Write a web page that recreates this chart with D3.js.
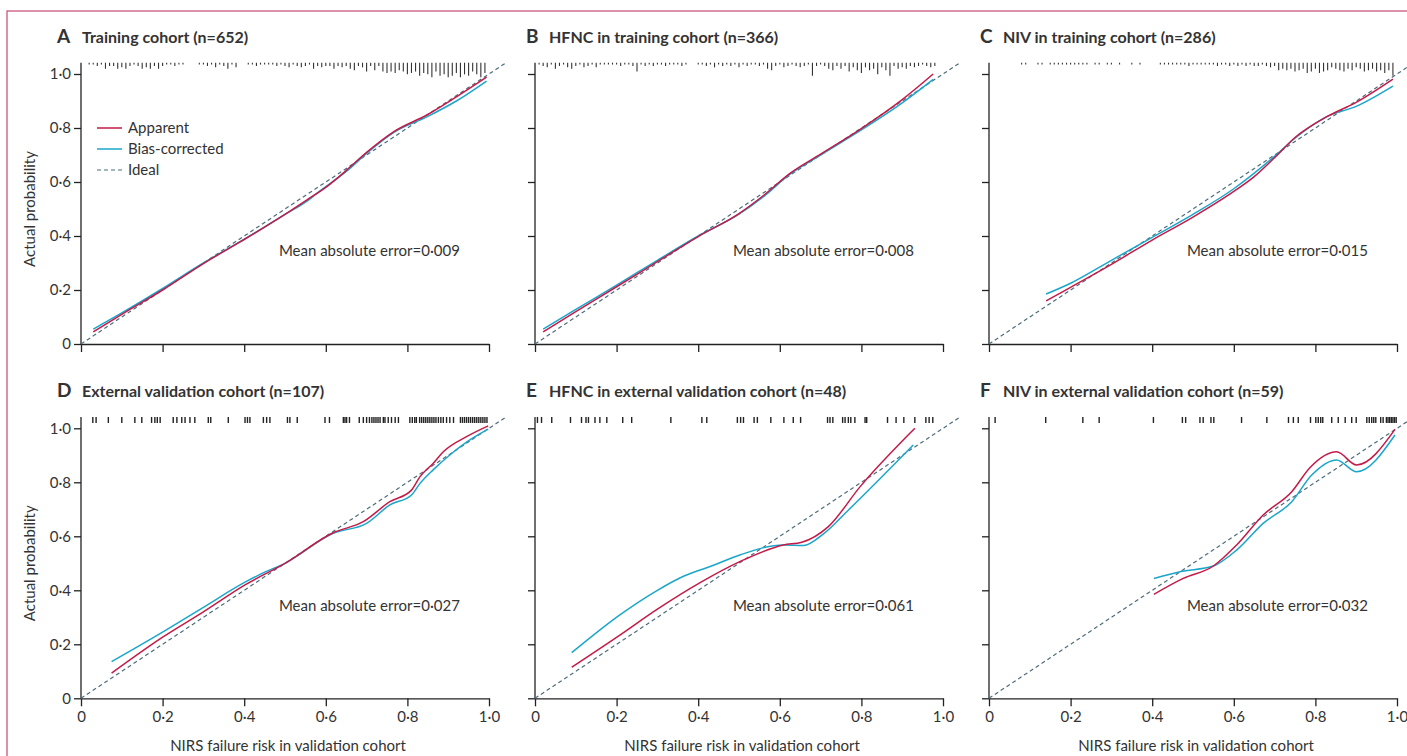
<!DOCTYPE html>
<html>
<head>
<meta charset="utf-8">
<script src="https://cdn.jsdelivr.net/npm/d3@7"></script>
<style>
  body { margin: 0; background: #fff; }
  svg text { font-family: Lato, "Open Sans", sans-serif; fill: #333; }
</style>
</head>
<body>
<svg id="chart" width="1407" height="756"></svg>
<script>
// panel labels
var letters = ['A', 'B', 'C', 'D', 'E', 'F'];
var titles = ['Training cohort (n=652)', 'HFNC in training cohort (n=366)', 'NIV in training cohort (n=286)',
  'External validation cohort (n=107)', 'HFNC in external validation cohort (n=48)', 'NIV in external validation cohort (n=59)'];
var maeValues = ['0·009', '0·008', '0·015', '0·027', '0·061', '0·032'];
var tickValues = [0, 0.2, 0.4, 0.6, 0.8, 1.0];
var legendLabels = ['Apparent', 'Bias-corrected', 'Ideal'];

// calibration curves [predicted, actual]
var apparentA = [[0.03, 0.045], [0.1, 0.11], [0.2, 0.2], [0.3, 0.298], [0.39, 0.378], [0.5, 0.48], [0.553, 0.533], [0.6, 0.58], [0.651, 0.644], [0.7, 0.71], [0.766, 0.786], [0.85, 0.85], [0.92, 0.915], [0.994, 0.988]];
var biasA = [[0.03, 0.055], [0.1, 0.115], [0.194, 0.2], [0.3, 0.3], [0.39, 0.379], [0.5, 0.48], [0.553, 0.528], [0.578, 0.558], [0.651, 0.64], [0.7, 0.706], [0.766, 0.783], [0.85, 0.843], [0.92, 0.9], [0.994, 0.974]];
var apparentB = [[0.02, 0.045], [0.1, 0.12], [0.2, 0.212], [0.3, 0.305], [0.4, 0.398], [0.5, 0.483], [0.56, 0.55], [0.625, 0.632], [0.7, 0.703], [0.797, 0.795], [0.9, 0.905], [0.976, 1.0]];
var biasB = [[0.02, 0.055], [0.1, 0.128], [0.2, 0.218], [0.3, 0.31], [0.4, 0.4], [0.5, 0.481], [0.56, 0.546], [0.625, 0.629], [0.7, 0.7], [0.797, 0.79], [0.9, 0.893], [0.976, 0.98]];
var apparentC = [[0.14, 0.16], [0.2, 0.21], [0.3, 0.295], [0.4, 0.385], [0.5, 0.47], [0.6, 0.565], [0.65, 0.62], [0.7, 0.69], [0.75, 0.765], [0.828, 0.842], [0.9, 0.895], [0.99, 0.981]];
var biasC = [[0.14, 0.185], [0.2, 0.225], [0.3, 0.31], [0.4, 0.395], [0.5, 0.48], [0.6, 0.575], [0.7, 0.695], [0.75, 0.762], [0.828, 0.842], [0.9, 0.88], [0.99, 0.955]];
var apparentD = [[0.075, 0.093], [0.202, 0.228], [0.3, 0.32], [0.402, 0.42], [0.5, 0.5], [0.618, 0.613], [0.692, 0.654], [0.757, 0.728], [0.81, 0.771], [0.831, 0.821], [0.863, 0.87], [0.888, 0.913], [0.945, 0.969], [0.998, 1.009]];
var biasD = [[0.075, 0.136], [0.202, 0.247], [0.3, 0.337], [0.402, 0.43], [0.453, 0.469], [0.5, 0.5], [0.618, 0.611], [0.7, 0.648], [0.757, 0.716], [0.81, 0.753], [0.831, 0.796], [0.863, 0.846], [0.904, 0.901], [0.953, 0.957], [0.998, 0.997]];
var apparentE = [[0.09, 0.115], [0.208, 0.234], [0.3, 0.33], [0.409, 0.432], [0.502, 0.506], [0.609, 0.568], [0.654, 0.578], [0.719, 0.636], [0.797, 0.784], [0.931, 1.0]];
var biasE = [[0.09, 0.169], [0.208, 0.309], [0.3, 0.4], [0.364, 0.452], [0.429, 0.488], [0.502, 0.531], [0.609, 0.568], [0.658, 0.566], [0.707, 0.609], [0.764, 0.691], [0.927, 0.938]];
var apparentF = [[0.404, 0.385], [0.476, 0.444], [0.55, 0.49], [0.607, 0.568], [0.672, 0.679], [0.742, 0.765], [0.787, 0.855], [0.852, 0.913], [0.901, 0.864], [0.995, 0.996]];
var biasF = [[0.404, 0.444], [0.468, 0.469], [0.55, 0.49], [0.607, 0.549], [0.672, 0.648], [0.742, 0.728], [0.791, 0.827], [0.852, 0.883], [0.901, 0.839], [0.995, 0.975]];

// spike histograms of predicted risk (training panels), bin width 0.01
var spikeStartA = 0.02, spikeCountsA = [1, 1, 2, 1, 4, 2, 2, 4, 3, 4, 2, 1, 2, 4, 3, 4, 2, 4, 2, 1, 1, 2, 1, 1, 0, 0, 0, 1, 1, 2, 1, 3, 1, 2, 4, 1, 3, 0, 0, 1, 1, 2, 1, 1, 1, 1, 2, 1, 2, 3, 1, 2, 3, 2, 1, 4, 2, 3, 2, 2, 4, 2, 3, 2, 4, 5, 2, 3, 6, 2, 5, 2, 6, 7, 6, 7, 5, 6, 8, 7, 6, 9, 7, 8, 10, 6, 9, 8, 10, 9, 7, 10, 8, 9, 6, 8, 10, 7];
var spikeStartB = 0.01, spikeCountsB = [1, 2, 3, 1, 4, 2, 1, 3, 4, 2, 1, 3, 2, 1, 3, 1, 1, 1, 1, 1, 2, 1, 1, 2, 6, 1, 2, 1, 2, 1, 1, 2, 1, 1, 1, 2, 1, 0, 0, 1, 1, 2, 1, 3, 1, 2, 1, 2, 1, 3, 1, 2, 1, 1, 2, 1, 4, 5, 2, 1, 3, 2, 1, 2, 3, 2, 1, 9, 2, 1, 2, 4, 5, 2, 4, 2, 6, 3, 5, 7, 3, 5, 4, 8, 3, 5, 9, 2, 4, 3, 4, 2, 3, 2, 1, 2, 3, 2];
var spikeStartC = 0.08, spikeCountsC = [1, 1, 0, 0, 1, 1, 0, 1, 1, 1, 1, 1, 1, 1, 1, 1, 1, 0, 1, 1, 0, 1, 1, 0, 1, 0, 0, 1, 0, 1, 0, 0, 0, 0, 1, 1, 1, 1, 1, 1, 1, 2, 1, 1, 1, 1, 1, 1, 2, 1, 1, 2, 1, 2, 1, 2, 1, 2, 2, 1, 2, 3, 2, 5, 4, 5, 4, 6, 5, 4, 7, 6, 4, 7, 6, 5, 3, 4, 5, 6, 4, 5, 3, 4, 6, 5, 4, 6, 5, 7, 5, 9];

// rug of individual predictions (validation panels)
var rugD = [0.029, 0.037, 0.067, 0.1, 0.132, 0.149, 0.173, 0.181, 0.187, 0.194, 0.226, 0.235, 0.247, 0.255, 0.267, 0.279, 0.312, 0.318, 0.361, 0.402, 0.408, 0.414, 0.447, 0.455, 0.463, 0.506, 0.512, 0.53, 0.598, 0.609, 0.643, 0.647, 0.651, 0.658, 0.682, 0.692, 0.7, 0.707, 0.713, 0.718, 0.723, 0.728, 0.733, 0.741, 0.745, 0.753, 0.761, 0.77, 0.778, 0.806, 0.812, 0.818, 0.822, 0.83, 0.835, 0.84, 0.845, 0.85, 0.855, 0.86, 0.865, 0.87, 0.876, 0.882, 0.888, 0.896, 0.904, 0.913, 0.93, 0.935, 0.94, 0.945, 0.95, 0.955, 0.96, 0.965, 0.97, 0.975, 0.98, 0.985, 0.99, 0.995];
var rugE = [0.006, 0.016, 0.041, 0.087, 0.114, 0.125, 0.131, 0.147, 0.159, 0.176, 0.215, 0.237, 0.333, 0.409, 0.421, 0.496, 0.504, 0.511, 0.537, 0.545, 0.578, 0.61, 0.633, 0.651, 0.717, 0.723, 0.73, 0.754, 0.76, 0.768, 0.774, 0.784, 0.809, 0.813, 0.864, 0.885, 0.904, 0.931, 0.958, 0.966, 0.975];
var rugF = [0.015, 0.139, 0.23, 0.27, 0.403, 0.474, 0.482, 0.517, 0.525, 0.544, 0.551, 0.619, 0.681, 0.734, 0.746, 0.758, 0.788, 0.801, 0.807, 0.813, 0.818, 0.84, 0.856, 0.873, 0.889, 0.9, 0.926, 0.932, 0.938, 0.943, 0.948, 0.96, 0.966, 0.974, 0.978, 0.982, 0.986, 0.99, 0.994, 0.998];

var apparent = [apparentA, apparentB, apparentC, apparentD, apparentE, apparentF];
var bias = [biasA, biasB, biasC, biasD, biasE, biasF];
var spikes = [[spikeStartA, spikeCountsA], [spikeStartB, spikeCountsB], [spikeStartC, spikeCountsC]];
var rugs = [rugD, rugE, rugF];

var red = '#c41a48', cyan = '#1aa6cb', ideal = '#4d6c7b';
var colX = [81, 535, 989], rowY = [74, 428.3];
var letterX = [57, 526, 980], titleX = [82, 549, 1003];
var w = 408, h = 270;

var svg = d3.select('#chart');

// outer frame
svg.append('rect')
  .attr('x', 7).attr('y', 11).attr('width', 1420).attr('height', 760)
  .attr('fill', 'none').attr('stroke', '#c9577a').attr('stroke-width', 1.3);

var fmt = function (d) { return d === 0 ? '0' : d3.format('.1f')(d).replace('.', '·'); };

for (var i = 0; i < 6; i++) {
  var col = i % 3, row = Math.floor(i / 3);
  var x = d3.scaleLinear().domain([0, 1]).range([0, w]);
  var y = d3.scaleLinear().domain([0, 1]).range([h, 0]);

  var g = svg.append('g').attr('transform', 'translate(' + colX[col] + ',' + rowY[row] + ')');

  // title
  svg.append('text').attr('x', letterX[col]).attr('y', rowY[row] - 31)
    .attr('font-size', 19).attr('font-weight', 700).text(letters[i]);
  svg.append('text').attr('x', titleX[col]).attr('y', rowY[row] - 31)
    .attr('font-size', 16).attr('font-weight', 700).text(titles[i]);

  // axes
  var yAxis = d3.axisLeft(y).tickValues(tickValues).tickSize(7).tickSizeOuter(0).tickPadding(3)
    .tickFormat(col === 0 ? fmt : '');
  var gy = g.append('g').call(yAxis);
  gy.select('.domain').remove();
  gy.append('line').attr('x1', 0).attr('x2', 0).attr('y1', y(0)).attr('y2', y(1.042))
    .attr('stroke', '#222').attr('stroke-width', 1.3);

  var xAxis = d3.axisBottom(x).tickValues(tickValues).tickSize(8).tickSizeOuter(0).tickPadding(5)
    .tickFormat(row === 1 ? fmt : '');
  var gx = g.append('g').attr('transform', 'translate(0,' + h + ')').call(xAxis);
  gx.select('.domain').attr('stroke', '#222').attr('stroke-width', 1.3);

  [gx, gy].forEach(function (a) {
    a.selectAll('.tick line').attr('stroke', '#222').attr('stroke-width', 1.3);
    a.selectAll('.tick text').attr('font-size', 15).attr('fill', '#333')
      .style('font-family', 'Lato, sans-serif');
  });

  // ideal diagonal
  g.append('line').attr('x1', x(0)).attr('y1', y(0)).attr('x2', x(1.04)).attr('y2', y(1.04))
    .attr('stroke', ideal).attr('stroke-width', 1.2).attr('stroke-dasharray', '4,3');

  // rug / spike histogram
  var rugTop = y(1.042);
  if (row === 0) {
    var start = spikes[col][0], counts = spikes[col][1];
    var bins = counts.map(function (c, k) { return [start + k * 0.01, c]; })
      .filter(function (d) { return d[1] > 0; });
    g.append('g').selectAll('line').data(bins).enter().append('line')
      .attr('x1', function (d) { return x(d[0]); }).attr('x2', function (d) { return x(d[0]); })
      .attr('y1', rugTop).attr('y2', function (d) { return rugTop + 0.5 + d[1] * 1.4; })
      .attr('stroke', '#333').attr('stroke-width', 1.1);
  } else {
    g.append('g').selectAll('line').data(rugs[col]).enter().append('line')
      .attr('x1', function (d) { return x(d); }).attr('x2', function (d) { return x(d); })
      .attr('y1', rugTop).attr('y2', rugTop + 6)
      .attr('stroke', '#222').attr('stroke-width', 1.4);
  }

  var line = d3.line().x(function (d) { return x(d[0]); }).y(function (d) { return y(d[1]); })
    .curve(d3.curveMonotoneX);
  g.append('path').datum(bias[i]).attr('d', line)
    .attr('fill', 'none').attr('stroke', cyan).attr('stroke-width', 1.5);
  g.append('path').datum(apparent[i]).attr('d', line)
    .attr('fill', 'none').attr('stroke', red).attr('stroke-width', 1.5);

  // mean absolute error
  g.append('text').attr('x', x(0.485)).attr('y', y(0.344)).attr('dy', '0.35em')
    .attr('font-size', 15).text('Mean absolute error=' + maeValues[i]);

  if (col === 0) {
    g.append('text').attr('transform', 'translate(' + (-51) + ',' + (h / 2) + ') rotate(-90)')
      .attr('text-anchor', 'middle').attr('dy', '0.35em').attr('font-size', 15).text('Actual probability');
  }
  if (row === 1) {
    g.append('text').attr('x', w / 2 + 3).attr('y', h + 47).attr('dy', '0.35em')
      .attr('text-anchor', 'middle').attr('font-size', 15).text('NIRS failure risk in validation cohort');
  }

  // legend in panel A
  if (i === 0) {
    var legColors = [red, cyan, ideal];
    var leg = g.append('g').selectAll('g').data(legendLabels).enter().append('g')
      .attr('transform', function (d, k) { return 'translate(16,' + (54 + k * 21) + ')'; });
    leg.append('line').attr('x1', 0).attr('x2', 25)
      .attr('stroke', function (d, k) { return legColors[k]; })
      .attr('stroke-width', function (d, k) { return k === 2 ? 1.2 : 1.5; })
      .attr('stroke-dasharray', function (d, k) { return k === 2 ? '4,3' : null; });
    leg.append('text').attr('x', 31).attr('dy', '0.35em').attr('font-size', 15).text(function (d) { return d; });
  }
}
</script>
</body>
</html>
